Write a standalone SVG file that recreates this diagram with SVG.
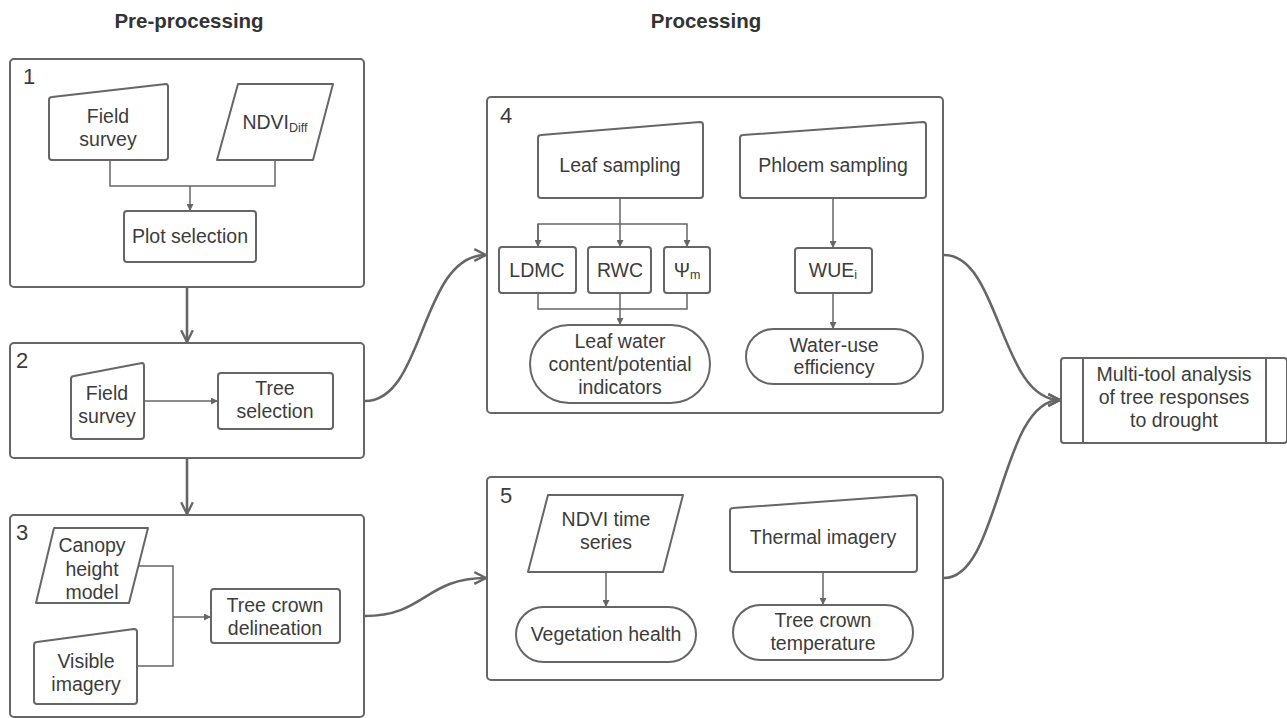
<svg xmlns="http://www.w3.org/2000/svg" width="1287" height="718" viewBox="0 0 1287 718">
<style>
.box{fill:#fff;stroke:#666;stroke-width:2;stroke-linejoin:round}
.shp{fill:#fff;stroke:#666;stroke-width:2;stroke-linejoin:round}
.ln{fill:none;stroke:#666;stroke-width:1.5}
.big{fill:none;stroke:#666;stroke-width:2.6}
.t{font-family:"Liberation Sans",Arial,sans-serif;font-size:19.5px;fill:#3c3c3c;text-anchor:middle}
.num{font-family:"Liberation Sans",Arial,sans-serif;font-size:22px;fill:#3c3c3c}
.h{font-family:"Liberation Sans",Arial,sans-serif;font-size:20.5px;font-weight:bold;fill:#333;text-anchor:middle}
.sub{font-size:12.5px}
</style>
<defs>
<marker id="tri" viewBox="0 0 10 10" refX="10" refY="5" markerWidth="7" markerHeight="7" orient="auto" markerUnits="userSpaceOnUse">
<path d="M0,0 L10,5 L0,10 z" fill="#666"/>
</marker>
<marker id="chev" viewBox="0 0 12 12" refX="11" refY="6" markerWidth="14" markerHeight="14" orient="auto" markerUnits="userSpaceOnUse">
<path d="M1,1 L11,6 L1,11" fill="none" stroke="#666" stroke-width="2"/>
</marker>
</defs>
<rect width="1287" height="718" fill="#fff"/>

<text class="h" x="189" y="28">Pre-processing</text>
<text class="h" x="706" y="28">Processing</text>

<g id="container1">
<rect class="box" x="10" y="59" width="354" height="228" rx="4"/>
<text class="num" x="23" y="84">1</text>
</g>
<g id="container2">
<rect class="box" x="10" y="343" width="354" height="115" rx="4"/>
<text class="num" x="16" y="368">2</text>
</g>
<g id="container3">
<rect class="box" x="10" y="515" width="354" height="202" rx="4"/>
<text class="num" x="16" y="540">3</text>
</g>
<g id="container4">
<rect class="box" x="487" y="97" width="456" height="316" rx="4"/>
<text class="num" x="500" y="123">4</text>
</g>
<g id="container5">
<rect class="box" x="487" y="477" width="456" height="203" rx="4"/>
<text class="num" x="500" y="503">5</text>
</g>

<g id="connectors">
<path class="ln" d="M110,160 V186 H275 V160"/>
<path class="ln" d="M190,186 V211" marker-end="url(#tri)"/>
<path class="ln" d="M144,401 H218" marker-end="url(#tri)"/>
<path class="ln" d="M139,566 H173 V666 H137"/>
<path class="ln" d="M173,617 H211" marker-end="url(#tri)"/>
<path class="ln" d="M620,198 V247" marker-end="url(#tri)"/>
<path class="ln" d="M538,247 V224 H687 V247" marker-end="url(#tri)"/>
<path class="ln" d="M538,224 V247" marker-end="url(#tri)"/>
<path class="ln" d="M538,293 V309 H687 V293"/>
<path class="ln" d="M620,293 V325" marker-end="url(#tri)"/>
<path class="ln" d="M833,198 V248" marker-end="url(#tri)"/>
<path class="ln" d="M833,293 V329" marker-end="url(#tri)"/>
<path class="ln" d="M606,572 V607" marker-end="url(#tri)"/>
<path class="ln" d="M823,572 V605" marker-end="url(#tri)"/>
<path class="big" d="M187,287 V342" marker-end="url(#chev)"/>
<path class="big" d="M187,458 V514" marker-end="url(#chev)"/>
<path class="big" d="M365,401 C425,401 420,255 486,255" marker-end="url(#chev)"/>
<path class="big" d="M365,616 C425,616 425,578 486,578" marker-end="url(#chev)"/>
<path class="big" d="M944,255 C1000,255 1000,400 1060,400" marker-end="url(#chev)"/>
<path class="big" d="M944,578 C1000,578 1000,400 1060,400" marker-end="url(#chev)"/>
</g>

<g id="field-survey-1">
<path class="shp" d="M52,97 L166,84 Q168,84 168,87 V157 Q168,160 165,160 H52 Q49,160 49,157 V100 Q49,97 52,97 Z"/>
<text class="t" x="108" y="123">Field</text>
<text class="t" x="108" y="146">survey</text>
</g>
<g id="ndvi-diff">
<path class="shp" d="M238,84 H333 L313,160 H217 Z"/>
<text class="t" x="275" y="129">NDVI<tspan class="sub" dy="3">Diff</tspan></text>
</g>
<g id="plot-selection">
<rect class="shp" x="124" y="211" width="132" height="51" rx="3"/>
<text class="t" x="190" y="243">Plot selection</text>
</g>

<g id="field-survey-2">
<path class="shp" d="M74,376 L142,363 Q144,363 144,366 V436 Q144,439 141,439 H74 Q71,439 71,436 V379 Q71,376 74,376 Z"/>
<text class="t" x="107" y="400">Field</text>
<text class="t" x="107" y="423">survey</text>
</g>
<g id="tree-selection">
<rect class="shp" x="218" y="373" width="115" height="56" rx="3"/>
<text class="t" x="275" y="395">Tree</text>
<text class="t" x="275" y="418">selection</text>
</g>

<g id="canopy-height-model">
<path class="shp" d="M54,528 H148 L129,603 H36 Z"/>
<text class="t" x="92" y="552">Canopy</text>
<text class="t" x="92" y="576">height</text>
<text class="t" x="92" y="599">model</text>
</g>
<g id="visible-imagery">
<path class="shp" d="M37,642 L134,629 Q137,629 137,632 V701 Q137,704 134,704 H37 Q34,704 34,701 V645 Q34,642 37,642 Z"/>
<text class="t" x="86" y="668">Visible</text>
<text class="t" x="86" y="691">imagery</text>
</g>
<g id="tree-crown-delineation">
<rect class="shp" x="211" y="589" width="129" height="54" rx="3"/>
<text class="t" x="275" y="612">Tree crown</text>
<text class="t" x="275" y="635">delineation</text>
</g>

<g id="leaf-sampling">
<path class="shp" d="M541,135 L700,122 Q703,122 703,125 V195 Q703,198 700,198 H541 Q538,198 538,195 V138 Q538,135 541,135 Z"/>
<text class="t" x="620" y="172">Leaf sampling</text>
</g>
<g id="phloem-sampling">
<path class="shp" d="M743,135 L923,122 Q926,122 926,125 V195 Q926,198 923,198 H743 Q740,198 740,195 V138 Q740,135 743,135 Z"/>
<text class="t" x="833" y="172">Phloem sampling</text>
</g>
<g id="ldmc">
<rect class="shp" x="499" y="247" width="77" height="46" rx="3"/>
<text class="t" x="537" y="277">LDMC</text>
</g>
<g id="rwc">
<rect class="shp" x="588" y="247" width="63" height="46" rx="3"/>
<text class="t" x="620" y="277">RWC</text>
</g>
<g id="psi-m">
<rect class="shp" x="664" y="247" width="46" height="46" rx="3"/>
<text class="t" x="687" y="277">Ψ<tspan class="sub" dy="2">m</tspan></text>
</g>
<g id="leaf-water">
<rect class="shp" x="530" y="325" width="180" height="78" rx="39"/>
<text class="t" x="620" y="348">Leaf water</text>
<text class="t" x="620" y="371">content/potential</text>
<text class="t" x="620" y="394">indicators</text>
</g>
<g id="wue-i">
<rect class="shp" x="795" y="248" width="77" height="45" rx="3"/>
<text class="t" x="833" y="277">WUE<tspan class="sub" dy="2">i</tspan></text>
</g>
<g id="water-use-efficiency">
<rect class="shp" x="746" y="329" width="177" height="55" rx="27.5"/>
<text class="t" x="834" y="352">Water-use</text>
<text class="t" x="834" y="374">efficiency</text>
</g>

<g id="ndvi-time-series">
<path class="shp" d="M548,495 H683 L663,572 H528 Z"/>
<text class="t" x="606" y="526">NDVI time</text>
<text class="t" x="606" y="549">series</text>
</g>
<g id="thermal-imagery">
<path class="shp" d="M733,508 L914,495 Q917,495 917,498 V569 Q917,572 914,572 H733 Q730,572 730,569 V511 Q730,508 733,508 Z"/>
<text class="t" x="823" y="544">Thermal imagery</text>
</g>
<g id="vegetation-health">
<rect class="shp" x="516" y="607" width="180" height="55" rx="27.5"/>
<text class="t" x="606" y="641">Vegetation health</text>
</g>
<g id="tree-crown-temperature">
<rect class="shp" x="733" y="605" width="180" height="55" rx="27.5"/>
<text class="t" x="823" y="627">Tree crown</text>
<text class="t" x="823" y="650">temperature</text>
</g>

<g id="multi-tool-analysis">
<rect class="shp" x="1061" y="358" width="226" height="85" rx="3"/>
<line class="ln" x1="1083" y1="358" x2="1083" y2="443" style="stroke-width:2"/>
<line class="ln" x1="1266" y1="358" x2="1266" y2="443" style="stroke-width:2"/>
<text class="t" x="1174" y="381">Multi-tool analysis</text>
<text class="t" x="1174" y="404">of tree responses</text>
<text class="t" x="1174" y="427">to drought</text>
</g>
</svg>
